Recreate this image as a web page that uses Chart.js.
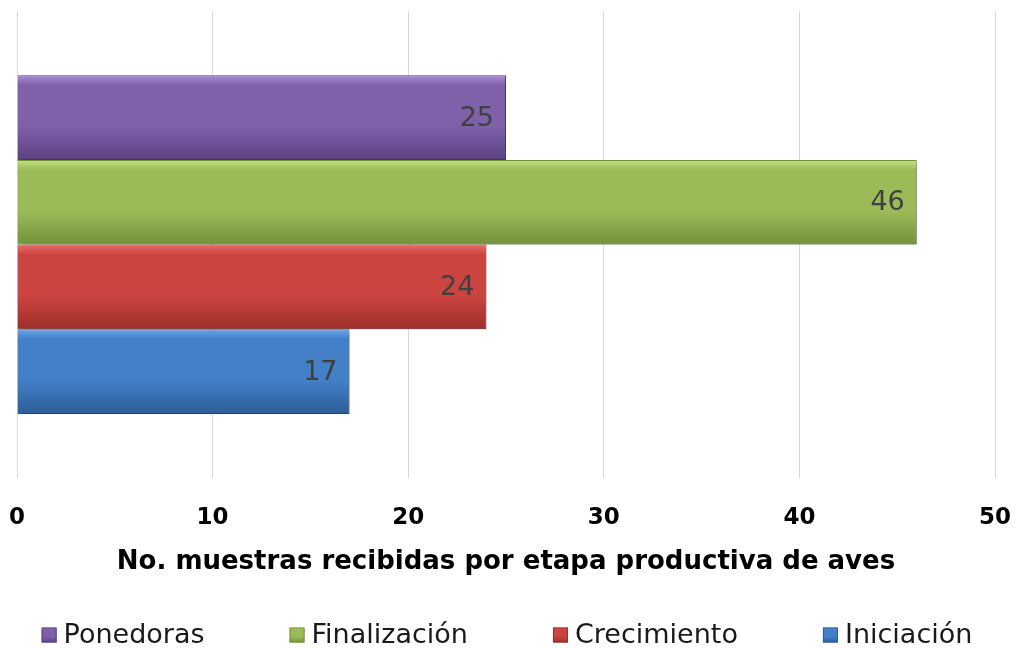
<!DOCTYPE html>
<html>
<head>
<meta charset="utf-8">
<script src="https://cdn.jsdelivr.net/npm/chart.js@4/dist/chart.umd.min.js"></script>
<style>
  html, body { margin: 0; padding: 0; background: #ffffff; }
  #wrap { width: 1019px; height: 648px; position: relative; }
</style>
</head>
<body>
<div id="wrap"><canvas id="c"></canvas></div>
<script>
// ---- data ----
const categories = [''];
const seriesNames = ['Ponedoras', 'Finalización', 'Crecimiento', 'Iniciación'];
const ponedoras = [25];
const finalizacion = [46];
const crecimiento = [24];
const iniciacion = [17];
const xTicks = [0, 10, 20, 30, 40, 50];
const axisTitle = 'No. muestras recibidas por etapa productiva de aves';

// ---- styles ----
const shades = [
  ['#a98cd6', '#7f61a9', '#5b4283'],
  ['#c6e37f', '#9bbb59', '#74923a'],
  ['#ec6d68', '#cc4440', '#9c2e2b'],
  ['#6aa3e4', '#4380c8', '#2c5d98']
];
const FONT = 'DejaVu Sans';

function grad(ctx, top, bottom, s) {
  const g = ctx.createLinearGradient(0, top, 0, bottom);
  g.addColorStop(0, s[0]);
  g.addColorStop(0.12, s[1]);
  g.addColorStop(0.6, s[1]);
  g.addColorStop(1, s[2]);
  return g;
}

const barStyle = {
  id: 'barStyle',
  beforeDatasetsDraw(chart) {
    const ctx = chart.ctx;
    chart.data.datasets.forEach((ds, i) => {
      const meta = chart.getDatasetMeta(i);
      meta.data.forEach(el => {
        const top = el.y - el.height / 2, bottom = el.y + el.height / 2;
        el.options.backgroundColor = grad(ctx, top, bottom, shades[i]);
      });
    });
    ctx.save();
    ctx.shadowColor = 'rgba(0,0,0,0.35)';
    ctx.shadowBlur = 5;
    ctx.shadowOffsetX = 2;
    ctx.shadowOffsetY = 3;
  },
  afterDatasetsDraw(chart) {
    const ctx = chart.ctx;
    ctx.restore();
    ctx.save();
    ctx.font = '27px "' + FONT + '"';
    ctx.fillStyle = '#404040';
    ctx.textAlign = 'right';
    ctx.textBaseline = 'middle';
    chart.data.datasets.forEach((ds, i) => {
      const meta = chart.getDatasetMeta(i);
      meta.data.forEach((el, j) => {
        ctx.fillText(String(ds.data[j]), el.x - 12, el.y + 1);
      });
    });
    ctx.restore();
  }
};

const bottomLegend = {
  id: 'bottomLegend',
  afterDraw(chart) {
    const ctx = chart.ctx;
    ctx.save();
    ctx.font = '27px "' + FONT + '"';
    ctx.textBaseline = 'middle';
    ctx.textAlign = 'left';
    const box = 15, gapBox = 7, gapItem = 85, cy = 635;
    const items = chart.data.datasets.map((ds, i) => ({
      label: ds.label, i, w: box + gapBox + ctx.measureText(ds.label).width
    }));
    const total = items.reduce((a, it) => a + it.w, 0) + gapItem * (items.length - 1);
    let x = 507 - total / 2;
    items.forEach(it => {
      ctx.fillStyle = grad(ctx, cy - box / 2, cy + box / 2, shades[it.i]);
      ctx.fillRect(x, cy - box / 2, box, box);
      ctx.strokeStyle = shades[it.i][2];
      ctx.lineWidth = 1;
      ctx.strokeRect(x + 0.5, cy - box / 2 + 0.5, box - 1, box - 1);
      ctx.fillStyle = '#1a1a1a';
      ctx.fillText(it.label, x + box + gapBox, cy + 1);
      x += it.w + gapItem;
    });
    ctx.restore();
  }
};

const seriesData = [ponedoras, finalizacion, crecimiento, iniciacion];

new Chart(document.getElementById('c'), {
  type: 'bar',
  data: {
    labels: categories,
    datasets: seriesNames.map((name, i) => ({
      label: name,
      data: seriesData[i],
      backgroundColor: shades[i][1],
      borderColor: shades[i][2],
      borderWidth: 1,
      categoryPercentage: 0.725,
      barPercentage: 1.0
    }))
  },
  options: {
    indexAxis: 'y',
    responsive: true,
    maintainAspectRatio: false,
    animation: false,
    layout: { padding: { top: 11, left: 17, right: 24, bottom: 70 } },
    plugins: {
      legend: { display: false },
      tooltip: { enabled: false }
    },
    scales: {
      y: { display: false },
      x: {
        min: 0, max: 50,
        afterBuildTicks(scale) { scale.ticks = xTicks.map(v => ({ value: v })); },
        afterFit(scale) {
          scale.height -= 25;
          scale.paddingLeft = 0;
          scale.paddingRight = 0;
        },
        grid: { color: '#d9d9d9', lineWidth: 1, drawTicks: false },
        border: { display: false },
        ticks: {
          padding: 26,
          color: '#000000',
          font: { family: FONT, size: 23, weight: 'bold' }
        },
        title: {
          display: true,
          text: axisTitle,
          color: '#000000',
          font: { family: FONT, size: 26, weight: 'bold' },
          padding: { top: 14, bottom: 0 }
        }
      }
    }
  },
  plugins: [barStyle, bottomLegend]
});
</script>
</body>
</html>
